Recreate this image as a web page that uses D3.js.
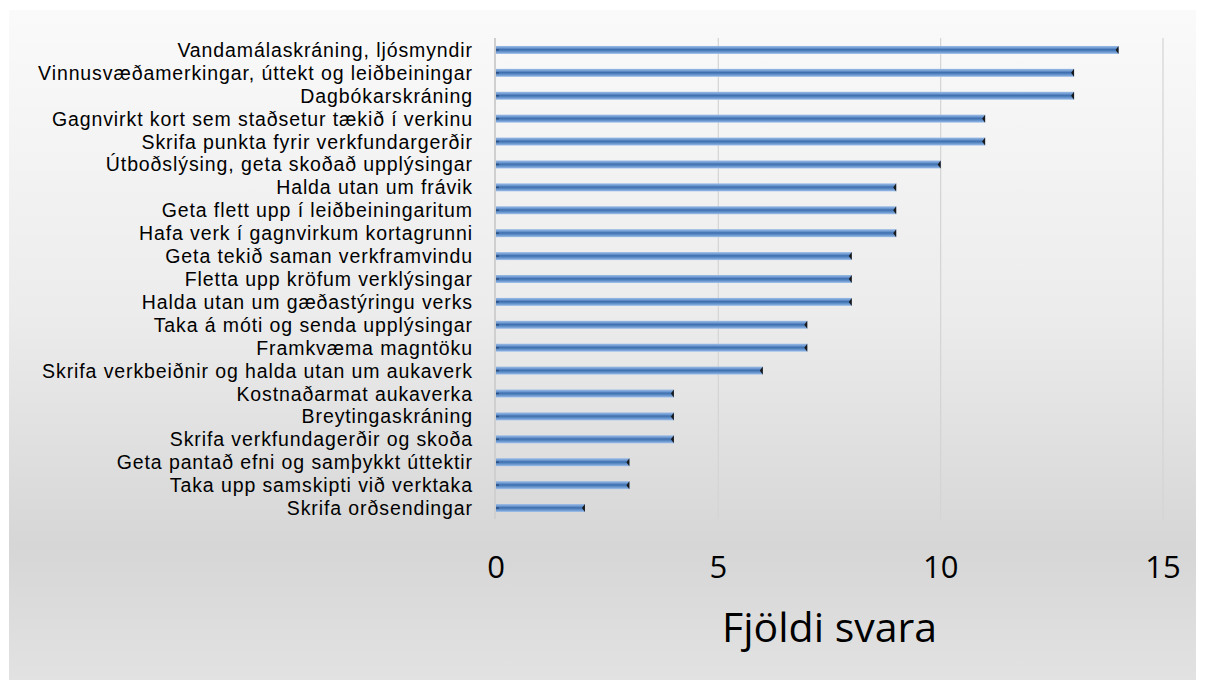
<!DOCTYPE html>
<html><head><meta charset="utf-8">
<script src="https://cdn.jsdelivr.net/npm/d3@7"></script>
<style>body{margin:0;background:#fff}svg{display:block}</style>
</head><body>
<svg id="c" width="1206" height="680"></svg>
<script>
const categories = [
 "Vandamálaskráning, ljósmyndir",
 "Vinnusvæðamerkingar, úttekt og leiðbeiningar",
 "Dagbókarskráning",
 "Gagnvirkt kort sem staðsetur tækið í verkinu",
 "Skrifa punkta fyrir verkfundargerðir",
 "Útboðslýsing, geta skoðað upplýsingar",
 "Halda utan um frávik",
 "Geta flett upp í leiðbeiningaritum",
 "Hafa verk í gagnvirkum kortagrunni",
 "Geta tekið saman verkframvindu",
 "Fletta upp kröfum verklýsingar",
 "Halda utan um gæðastýringu verks",
 "Taka á móti og senda upplýsingar",
 "Framkvæma magntöku",
 "Skrifa verkbeiðnir og halda utan um aukaverk",
 "Kostnaðarmat aukaverka",
 "Breytingaskráning",
 "Skrifa verkfundagerðir og skoða",
 "Geta pantað efni og samþykkt úttektir",
 "Taka upp samskipti við verktaka",
 "Skrifa orðsendingar"
];
const values = [14,13,13,11,11,10,9,9,9,8,8,8,7,7,6,4,4,4,3,3,2];
const xTicks = [0,5,10,15];
const axisTitle = "Fjöldi svara";

const svg = d3.select("#c");
const defs = svg.append("defs");
const bg = defs.append("linearGradient").attr("id","bg").attr("x1",0).attr("y1",0).attr("x2",0).attr("y2",1);
[["0%","#fafafa"],["45%","#ececec"],["80%","#d6d6d6"],["100%","#e2e2e2"]].forEach(s=>bg.append("stop").attr("offset",s[0]).attr("stop-color",s[1]));
const bar = defs.append("linearGradient").attr("id","bar").attr("x1",0).attr("y1",0).attr("x2",0).attr("y2",1);
[["0%","#9dbde6"],["25%","#6f9ad2"],["45%","#3f6fae"],["60%","#4f81bd"],["85%","#7ea6da"],["100%","#a8c6ec"]].forEach(s=>bar.append("stop").attr("offset",s[0]).attr("stop-color",s[1]));

svg.append("rect").attr("x",9).attr("y",10).attr("width",1187).attr("height",670).attr("fill","url(#bg)");

const x = d3.scaleLinear().domain([0,15]).range([496,1163]);
const y = d3.scaleBand().domain(categories).range([38.5,519.5]).paddingInner(0.65).paddingOuter(0.325);

// gridlines
svg.append("g").selectAll("line").data(xTicks.slice(1)).join("line")
 .attr("x1",d=>x(d)).attr("x2",d=>x(d)).attr("y1",38).attr("y2",519)
 .attr("stroke","#d4d4d4").attr("stroke-width",1.2);
svg.append("line").attr("x1",x(0)-1).attr("x2",x(0)-1).attr("y1",38).attr("y2",519)
 .attr("stroke","#cfcfcf").attr("stroke-width",2);

// bars
const g = svg.append("g");
g.selectAll("rect").data(values).join("rect")
 .attr("x",x(0)).attr("y",(d,i)=>y(categories[i]))
 .attr("width",d=>x(d)-x(0)).attr("height",y.bandwidth())
 .attr("fill","url(#bar)");
g.selectAll("path").data(values).join("path")
 .attr("d",(d,i)=>{const xe=x(d), yc=y(categories[i])+y.bandwidth()/2, h=y.bandwidth()/2;
   return `M${xe},${yc-h}L${xe-3},${yc}L${xe},${yc+h}Z`;})
 .attr("fill","#1a1a1a");
g.selectAll("line.l").data(values).join("line").attr("class","l")
 .attr("x1",x(0)).attr("x2",x(0)+3).attr("y1",(d,i)=>y(categories[i])+y.bandwidth()/2).attr("y2",(d,i)=>y(categories[i])+y.bandwidth()/2)
 .attr("stroke","#2c4f80").attr("stroke-width",1.5);

// category labels
svg.append("g").selectAll("text").data(categories).join("text")
 .attr("x",473).attr("y",d=>y(d)+y.bandwidth()/2)
 .attr("dy","0.36em").attr("text-anchor","end")
 .attr("font-family","'Liberation Sans', Arial, sans-serif").attr("font-size",19.5)
 .attr("letter-spacing","0.9px").attr("fill","#000")
 .text(d=>d);

// tick labels
svg.append("g").selectAll("text").data(xTicks).join("text")
 .attr("x",d=>x(d)).attr("y",578).attr("text-anchor","middle")
 .attr("font-family","'Open Sans', sans-serif").attr("font-size",31).attr("fill","#000")
 .text(d=>d);

svg.append("text").attr("x",(x(0)+x(15))/2).attr("y",642).attr("text-anchor","middle")
 .attr("font-family","'Open Sans', sans-serif").attr("font-size",41).attr("fill","#000")
 .text(axisTitle);
</script>
</body></html>
